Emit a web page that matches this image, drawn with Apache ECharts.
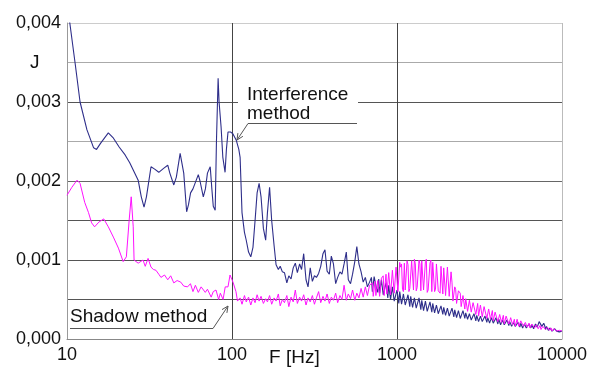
<!DOCTYPE html>
<html><head><meta charset="utf-8">
<script src="https://cdn.jsdelivr.net/npm/echarts@6.0.0/dist/echarts.min.js"></script>
<style>html,body{margin:0;padding:0;background:#fff}#c{width:590px;height:368px}</style>
</head><body><div id="c"></div>
<script>
// ---- tick labels ----
const xTickLabels = ['10', '100', '1000', '10000'];
const yTickLabels = ['0,000', '0,001', '0,002', '0,003', '0,004'];

// ---- Interference method, low frequencies (Hz, J) ----
const interfLowF = [10, 10.4, 11.2, 12, 13.2, 14.5, 15.1, 16, 17.8, 19, 20.7, 22.5, 24, 27, 28.2, 29.3, 30.3, 32.3, 34, 36, 38.5, 40.8, 42, 44.4, 46, 48.5, 49.5, 51, 53.1, 54.5, 56.1, 58, 62.5, 64, 67, 69, 71, 73.8, 75.5, 77, 79.1, 80.5, 82.4, 83.5, 85.9, 88, 90.8, 92.5, 94.6, 98, 101, 106, 110];
const interfLowJ = [0.0043, 0.0040, 0.00349, 0.0030, 0.00265, 0.00242, 0.0024, 0.00248, 0.00261, 0.00255, 0.00243, 0.00233, 0.00223, 0.00201, 0.0018, 0.00167, 0.0018, 0.00218, 0.00215, 0.00211, 0.00216, 0.0022, 0.0021, 0.00195, 0.00205, 0.00235, 0.00237, 0.0021, 0.00161, 0.0017, 0.00185, 0.0019, 0.00208, 0.002, 0.0018, 0.0019, 0.0021, 0.00218, 0.0019, 0.00168, 0.00163, 0.0025, 0.0033, 0.0030, 0.00268, 0.0023, 0.00211, 0.0024, 0.00262, 0.00262, 0.0026, 0.00252, 0.0024];

// ---- Shadow method, low frequencies (Hz, J) ----
const shadowLowF = [10, 10.7, 11.5, 12, 12.8, 13.5, 14.1, 14.7, 15.6, 16.7, 17.8, 19.1, 20.5, 21.9, 22.9, 23.8, 24.5, 25.2, 25.5, 27, 28.9, 29.8, 31, 32.3, 33.4, 34.6, 36, 37.1, 39, 40.8, 42.5, 44.4, 46.5, 48.9, 51, 53.8, 56, 58, 60, 62.5, 65, 68.9, 71, 74.8, 77, 80, 83, 85, 88.3, 91, 94.6, 97.3, 100, 101.4, 105.7, 108];
const shadowLowJ = [0.00182, 0.00192, 0.00201, 0.00197, 0.00173, 0.0016, 0.00147, 0.00142, 0.00148, 0.00152, 0.00142, 0.00129, 0.00115, 0.00098, 0.00104, 0.0015, 0.0018, 0.00142, 0.001, 0.00096, 0.001, 0.00092, 0.00102, 0.00091, 0.00088, 0.00087, 0.00082, 0.00078, 0.00081, 0.00075, 0.0008, 0.00071, 0.00074, 0.00072, 0.00067, 0.00066, 0.0007, 0.0006, 0.00068, 0.00059, 0.00066, 0.00059, 0.00063, 0.00053, 0.0006, 0.00062, 0.0005, 0.00058, 0.0005, 0.00066, 0.00066, 0.00081, 0.00075, 0.00072, 0.0006, 0.00048];

// ---- mid frequencies (Hz), shared ----
const midF = [112, 115, 119, 122, 126, 130, 134, 138, 142, 146, 150, 155, 160, 164, 169, 174, 180, 185, 191, 196, 202, 208, 215, 221, 228, 235, 242, 249, 257, 264, 272, 281, 289, 298, 307, 316, 325, 335, 345, 356, 366, 377, 389, 400, 412, 425, 437, 451, 464, 478, 493, 507, 523, 538, 555, 571, 588, 606, 624, 643, 662, 682];
const interfMidJ = [0.0023, 0.0016, 0.00135, 0.00125, 0.0011, 0.00104, 0.00116, 0.0015, 0.00185, 0.00197, 0.0018, 0.0014, 0.00125, 0.0016, 0.00192, 0.0015, 0.00118, 0.00094, 0.00088, 0.00092, 0.00085, 0.00084, 0.00071, 0.0008, 0.00076, 0.0009, 0.00096, 0.00084, 0.00095, 0.00088, 0.00108, 0.00075, 0.00066, 0.0009, 0.00073, 0.0008, 0.00078, 0.00083, 0.00092, 0.00108, 0.00113, 0.00086, 0.00082, 0.00105, 0.00095, 0.0007, 0.00078, 0.00085, 0.00082, 0.00095, 0.0011, 0.00075, 0.0007, 0.00082, 0.00098, 0.00117, 0.00095, 0.00085, 0.00072, 0.00078, 0.00066, 0.00072];
const shadowMidJ = [0.00052, 0.00044, 0.00055, 0.00047, 0.00053, 0.00043, 0.00052, 0.00046, 0.00056, 0.00048, 0.00054, 0.00045, 0.00051, 0.00047, 0.00055, 0.00044, 0.00052, 0.00048, 0.00057, 0.00042, 0.0005, 0.00046, 0.00055, 0.00041, 0.00053, 0.00047, 0.00062, 0.00045, 0.00053, 0.00048, 0.00056, 0.00043, 0.00052, 0.00047, 0.00055, 0.00044, 0.00052, 0.0006, 0.00046, 0.00054, 0.00048, 0.00057, 0.00045, 0.00053, 0.00049, 0.00058, 0.00046, 0.00055, 0.0005, 0.00068, 0.00049, 0.00057, 0.00051, 0.00062, 0.00049, 0.00058, 0.00052, 0.00064, 0.00053, 0.00066, 0.00055, 0.00068];

// ---- high frequencies (Hz), two interleaved sample sets ----
const highF = [700, 718, 736, 755, 775, 795, 815, 836, 858, 880, 903, 926, 950, 975, 1000, 1026, 1052, 1080, 1108, 1136, 1166, 1196, 1227, 1259, 1292, 1325, 1360, 1395, 1431, 1468, 1506, 1545, 1585, 1626, 1668, 1712, 1756, 1802, 1848, 1896, 1945, 1995, 2047, 2100, 2155, 2211, 2268, 2327, 2387, 2449, 2512, 2577, 2644, 2713, 2783, 2855, 2929, 3005, 3083, 3163, 3245, 3329, 3415, 3504, 3595, 3688, 3784, 3882, 3982, 4086, 4192, 4300, 4412, 4527, 4644, 4764, 4888, 5015, 5145, 5278, 5415, 5556, 5700, 5848, 6000, 6156, 6315, 6479, 6647, 6820, 6997, 7178, 7365, 7556, 7752, 7953, 8159, 8371, 8588, 8811, 9040, 9274, 9515, 9761, 10000];
const shadowHighJ = [0.0007, 0.00054, 0.00073, 0.00053, 0.00076, 0.00056, 0.00079, 0.00055, 0.00082, 0.00058, 0.00086, 0.00057, 0.00088, 0.0006, 0.00093, 0.00059, 0.00091, 0.00063, 0.00096, 0.00061, 0.00094, 0.00064, 0.00099, 0.00062, 0.00095, 0.00065, 0.001, 0.00061, 0.00097, 0.00064, 0.00101, 0.00062, 0.00096, 0.0006, 0.00099, 0.00063, 0.00094, 0.00059, 0.00092, 0.00057, 0.0009, 0.00056, 0.00089, 0.00052, 0.00072, 0.00049, 0.00063, 0.00044, 0.0006, 0.00041, 0.00055, 0.00038, 0.00052, 0.00036, 0.0005, 0.00033, 0.00047, 0.00031, 0.00045, 0.0003, 0.00042, 0.00028, 0.0004, 0.00026, 0.00038, 0.00025, 0.00036, 0.00023, 0.00033, 0.00022, 0.00031, 0.00021, 0.0003, 0.0002, 0.00028, 0.00019, 0.00027, 0.00018, 0.00025, 0.00017, 0.00024, 0.00016, 0.00022, 0.00016, 0.00021, 0.00015, 0.0002, 0.00014, 0.00019, 0.00014, 0.00018, 0.00013, 0.00017, 0.00013, 0.00016, 0.00012, 0.00015, 0.00011, 0.00014, 0.00011, 0.00013, 0.0001, 0.00012, 0.00009, 0.0001];
const interfHighJ = [0.00078, 0.0006, 0.0008, 0.00062, 0.00076, 0.00058, 0.00073, 0.00056, 0.00071, 0.00052, 0.00068, 0.00049, 0.00064, 0.00047, 0.00062, 0.00045, 0.0006, 0.00044, 0.00058, 0.00042, 0.00056, 0.00041, 0.00055, 0.0004, 0.00053, 0.00039, 0.00052, 0.00037, 0.0005, 0.00036, 0.00049, 0.00035, 0.00047, 0.00034, 0.00045, 0.00033, 0.00044, 0.00032, 0.00042, 0.00031, 0.00041, 0.0003, 0.0004, 0.00029, 0.00039, 0.00028, 0.00038, 0.00027, 0.00037, 0.00026, 0.00036, 0.00026, 0.00034, 0.00025, 0.00033, 0.00024, 0.00032, 0.00023, 0.00031, 0.00023, 0.0003, 0.00022, 0.00029, 0.00021, 0.00028, 0.00021, 0.00027, 0.0002, 0.00027, 0.00019, 0.00026, 0.00018, 0.00025, 0.00018, 0.00024, 0.00017, 0.00023, 0.00017, 0.00022, 0.00016, 0.00021, 0.00015, 0.0002, 0.00015, 0.0002, 0.00014, 0.00019, 0.00014, 0.00019, 0.00013, 0.0002, 0.00016, 0.00023, 0.00016, 0.0002, 0.00012, 0.00016, 0.00011, 0.00014, 0.0001, 0.00013, 0.0001, 0.00012, 0.00009, 0.0001];

const highF2 = [709, 727, 745, 765, 785, 805, 825, 847, 869, 891, 914, 938, 962, 987, 1013, 1039, 1066, 1094, 1122, 1151, 1181, 1211, 1243, 1275, 1308, 1342, 1377, 1413, 1449, 1487, 1525, 1565, 1605, 1647, 1690, 1734, 1779, 1825, 1872, 1920, 1970, 2021, 2073, 2127, 2183, 2239, 2297, 2357, 2418, 2480, 2544, 2610, 2678, 2748, 2819, 2892, 2967, 3044, 3123, 3204, 3287, 3372, 3459, 3549, 3641, 3736, 3833, 3932, 4034, 4139, 4246, 4356, 4469, 4585, 4704, 4826, 4951, 5080, 5211, 5346, 5485, 5628, 5774, 5924, 6078, 6235, 6397, 6563, 6733, 6908, 7087, 7271, 7460, 7654, 7852, 8056, 8265, 8479, 8699, 8925, 9157, 9394, 9638, 9880];
const shadowHighJ2 = [0.00071, 0.00052, 0.00055, 0.00074, 0.00054, 0.00077, 0.0008, 0.00054, 0.00057, 0.00084, 0.00056, 0.00087, 0.00058, 0.00091, 0.0006, 0.00097, 0.00095, 0.0006, 0.00062, 0.00099, 0.0006, 0.00064, 0.00097, 0.00101, 0.00061, 0.00063, 0.00095, 0.00099, 0.00062, 0.00098, 0.00059, 0.00064, 0.001, 0.00097, 0.0006, 0.00095, 0.00061, 0.00058, 0.00093, 0.0009, 0.00055, 0.00091, 0.00054, 0.00085, 0.00048, 0.00066, 0.00045, 0.00061, 0.00058, 0.0004, 0.00054, 0.00051, 0.00035, 0.00049, 0.00034, 0.00046, 0.00045, 0.0003, 0.00029, 0.00043, 0.00028, 0.00041, 0.00039, 0.00025, 0.00037, 0.00024, 0.00023, 0.00034, 0.00032, 0.00021, 0.0003, 0.0002, 0.00019, 0.00029, 0.00027, 0.00018, 0.00026, 0.00017, 0.00016, 0.00025, 0.00016, 0.00023, 0.00021, 0.00015, 0.0002, 0.00014, 0.00014, 0.00019, 0.00018, 0.00013, 0.00017, 0.00013, 0.00012, 0.00016, 0.00015, 0.00011, 0.00014, 0.00011, 0.0001, 0.00013, 0.00012, 0.00009, 0.00011, 0.00009];
const interfHighJ2 = [0.0006, 0.00079, 0.00081, 0.00059, 0.00058, 0.00075, 0.00056, 0.00055, 0.0007, 0.00068, 0.0005, 0.00066, 0.00048, 0.00046, 0.00061, 0.0006, 0.00044, 0.00057, 0.00043, 0.00042, 0.00055, 0.00054, 0.0004, 0.00052, 0.00039, 0.00038, 0.00051, 0.00049, 0.00036, 0.00048, 0.00035, 0.00034, 0.00046, 0.00045, 0.00033, 0.00043, 0.00032, 0.00031, 0.00041, 0.0004, 0.0003, 0.00039, 0.00029, 0.00028, 0.00038, 0.00037, 0.00027, 0.00036, 0.00026, 0.00026, 0.00035, 0.00033, 0.00025, 0.00032, 0.00024, 0.00023, 0.00031, 0.0003, 0.00022, 0.00029, 0.00022, 0.00021, 0.00028, 0.00027, 0.0002, 0.00027, 0.0002, 0.00019, 0.00026, 0.00025, 0.00018, 0.00024, 0.00018, 0.00017, 0.00023, 0.00022, 0.00016, 0.00021, 0.00016, 0.00015, 0.0002, 0.0002, 0.00014, 0.00019, 0.00014, 0.00013, 0.00018, 0.00018, 0.00013, 0.00019, 0.00015, 0.00022, 0.00024, 0.00015, 0.00017, 0.00016, 0.00011, 0.00014, 0.0001, 0.0001, 0.00012, 0.00011, 0.00009, 0.0001];

function zip(f, j) { return f.map((v, i) => [v, j[i]]); }
function byFreq(a, b) { return a[0] - b[0]; }
const interfData = zip(interfLowF, interfLowJ)
  .concat(zip(midF, interfMidJ), zip(highF, interfHighJ).concat(zip(highF2, interfHighJ2)).sort(byFreq));
const shadowData = zip(shadowLowF, shadowLowJ)
  .concat(zip(midF, shadowMidJ), zip(highF, shadowHighJ).concat(zip(highF2, shadowHighJ2)).sort(byFreq));

const FONT = "'Liberation Sans', Arial, sans-serif";
const TFONT = "19px 'Liberation Sans', Arial, sans-serif";
const chart = echarts.init(document.getElementById('c'), null, { renderer: 'canvas' });
chart.setOption({
  animation: false,
  backgroundColor: '#fff',
  grid: { left: 67, right: 22, top: 23, bottom: 29, containLabel: false },
  xAxis: {
    type: 'log', logBase: 10, min: 10, max: 10000,
    axisLine: { show: true, lineStyle: { color: '#888', width: 1 } },
    axisTick: { show: false },
    axisLabel: {
      color: '#111', fontFamily: FONT, fontSize: 18, margin: 7,
      formatter: v => { const i = Math.round(Math.log10(v)) - 1; return xTickLabels[i] !== undefined ? xTickLabels[i] : ''; },
      showMinLabel: true, showMaxLabel: true
    },
    splitLine: { show: true, lineStyle: { color: ['#999', '#444', '#444', '#bbb'], width: 1 } }
  },
  yAxis: {
    type: 'value', min: 0, max: 0.004, interval: 0.0005,
    axisLine: { show: true, lineStyle: { color: '#999' } },
    axisTick: { show: false },
    axisLabel: {
      color: '#111', fontFamily: FONT, fontSize: 18, margin: 6,
      formatter: v => { const k = v * 1000; const r = Math.round(k); return Math.abs(k - r) < 1e-6 ? yTickLabels[r] : ''; }
    },
    splitLine: { show: true, lineStyle: { color: ['#888', '#555', '#555', '#555', '#666', '#aaa', '#555', '#aaa', '#ccc'], width: 1 } }
  },
  series: [
    { name: 'Interference method', type: 'line', data: interfData, showSymbol: false, clip: true,
      lineStyle: { color: '#2e2e8a', width: 1.1 }, z: 3 },
    { name: 'Shadow method', type: 'line', data: shadowData, showSymbol: false, clip: true,
      lineStyle: { color: '#ff10ff', width: 1 }, z: 4 }
  ],
  graphic: [
    { type: 'rect', shape: { x: 238, y: 95, width: 120, height: 10 }, style: { fill: '#fff' }, z: 50 },
    { type: 'text', left: 247, top: 85, z: 60, style: { text: 'Interference', font: TFONT, fill: '#111' } },
    { type: 'text', left: 247, top: 104, z: 60, style: { text: 'method', font: TFONT, fill: '#111' } },
    { type: 'line', shape: { x1: 248, y1: 123.5, x2: 357, y2: 123.5 }, style: { stroke: '#555', lineWidth: 1 }, z: 60 },
    { type: 'line', shape: { x1: 248, y1: 123.5, x2: 237, y2: 140 }, style: { stroke: '#555', lineWidth: 1 }, z: 60 },
    { type: 'polyline', shape: { points: [[242.9, 136.3], [237, 140], [237.9, 133.1]] }, style: { stroke: '#555', lineWidth: 1, fill: null }, z: 60 },
    { type: 'text', left: 70, top: 307, z: 60, style: { text: 'Shadow method', font: TFONT, fill: '#111' } },
    { type: 'line', shape: { x1: 70, y1: 328.5, x2: 213, y2: 328.5 }, style: { stroke: '#555', lineWidth: 1 }, z: 60 },
    { type: 'line', shape: { x1: 213, y1: 328.5, x2: 228, y2: 306 }, style: { stroke: '#555', lineWidth: 1 }, z: 60 },
    { type: 'polyline', shape: { points: [[222, 309.6], [228, 306], [226.9, 312.9]] }, style: { stroke: '#555', lineWidth: 1, fill: null }, z: 60 },
    { type: 'text', left: 30, top: 53, z: 60, style: { text: 'J', font: TFONT, fill: '#111' } },
    { type: 'text', left: 269, top: 348, z: 60, style: { text: 'F [Hz]', font: TFONT, fill: '#111' } }
  ]
});
</script>
</body></html>
